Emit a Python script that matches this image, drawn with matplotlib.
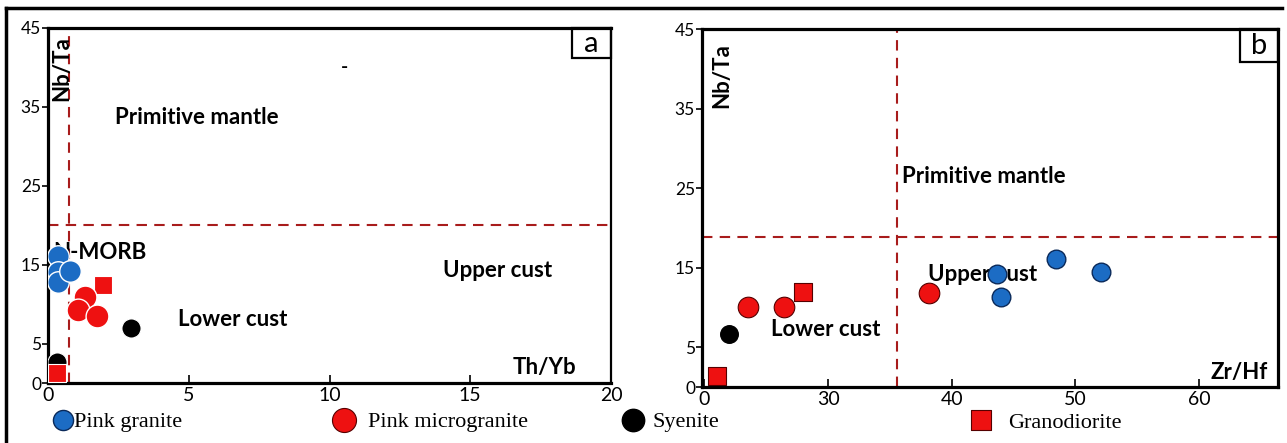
import numpy as np
import matplotlib.pyplot as plt
from matplotlib.lines import Line2D
from matplotlib.patches import Rectangle

plt.rcParams['font.family'] = ['Lato', 'DejaVu Sans']

##################### DATA ##########################################
# panel a : Th/Yb vs Nb/Ta
a_granite_x = [0.36, 0.36, 0.36, 0.78]
a_granite_y = [16.1, 14.1, 12.8, 14.2]
a_micro_x   = [1.31, 1.07, 1.74]
a_micro_y   = [10.9, 9.25, 8.5]
a_syenite_x = [2.95, 0.32]
a_syenite_y = [7.0, 2.7]
a_grano_x   = [1.95, 0.32]
a_grano_y   = [12.4, 1.3]

# panel b : Zr/Hf vs Nb/Ta
b_granite_x = [43.7, 44.0, 48.4, 52.1]
b_granite_y = [14.2, 11.3, 16.1, 14.4]
b_micro_x   = [23.5, 26.4, 38.2]
b_micro_y   = [10.1, 10.1, 11.8]
b_syenite_x = [22.0]
b_syenite_y = [6.7]
b_grano_x   = [21.0, 28.0]
b_grano_y   = [1.4, 11.9]

a_xticks = [0, 5, 10, 15, 20]
a_xticklabels = ['0', '5', '10', '15', '20']
b_xticks = [20, 30, 40, 50, 60]
b_xticklabels = ['0', '30', '40', '50', '60']
yticks = [0, 5, 15, 25, 35, 45]
yticklabels = ['0', '5', '15', '25', '35', '45']

legend_labels = ['Pink granite', 'Pink microgranite', 'Syenite', 'Granodiorite']

BLUE = '#1c6cc4'
RED = '#ee1111'
DASH = '#a81c1c'

########################### FIGURE ###############################
fig = plt.figure(figsize=(12.87, 4.43), dpi=100)
back = fig.add_axes([0, 0, 1, 1], zorder=-1)
back.set_xlim(0, 1287)
back.set_ylim(443, 0)
back.axis('off')

ax_a = fig.add_axes([48/1287, 1-383/443, (611-48)/1287, (383-28)/443])
ax_b = fig.add_axes([702/1287, 1-387/443, (1278-702)/1287, (387-29)/443])


def style_axes(ax, xticks, xlabels):
    ax.set_ylim(0, 45)
    ax.set_yticks(yticks)
    ax.set_yticklabels(yticklabels)
    ax.set_xticks(xticks)
    ax.set_xticklabels(xlabels)
    for s in ax.spines.values():
        s.set_linewidth(2.3)
    ax.tick_params(axis='x', direction='in', length=6, width=1.2, labelsize=14, pad=3)
    ax.tick_params(axis='y', direction='out', length=4, width=1.2, labelsize=12.5, pad=1)


dash_kw = dict(color=DASH, lw=1.5, dashes=(5, 3.5), zorder=1)
txt_kw = dict(fontsize=16, fontweight='bold', zorder=1, va='center')

########################### PANEL A ##################################
style_axes(ax_a, a_xticks, a_xticklabels)
ax_a.set_xlim(0, 20)
ax_a.spines['right'].set_linewidth(1.6)
ax_a.axhline(20, **dash_kw)
ax_a.axvline(0.75, **dash_kw)

ax_a.scatter(a_syenite_x, a_syenite_y, s=190, c='black', edgecolors='white', linewidths=0.8, zorder=3)
ax_a.scatter(a_grano_x, a_grano_y, s=160, c=RED, marker='s', edgecolors='white', linewidths=0.8, zorder=3)
ax_a.scatter(a_micro_x, a_micro_y, s=270, c=RED, edgecolors='white', linewidths=1.0, zorder=3)
ax_a.scatter(a_granite_x, a_granite_y, s=240, c=BLUE, edgecolors='white', linewidths=1.0, zorder=4)

ax_a.text(2.38, 33.7, 'Primitive mantle', **txt_kw)
ax_a.text(0.2, 16.6, 'N-MORB', **txt_kw)
ax_a.text(4.62, 8.0, 'Lower cust', **txt_kw)
ax_a.text(14.03, 14.3, 'Upper cust', **txt_kw)
ax_a.text(16.5, 2.0, 'Th/Yb', **txt_kw)
ax_a.text(0.5, 39.8, 'Nb/Ta', rotation=90, ha='center', fontsize=16, fontweight='bold', va='center')
ax_a.text(10.55, 40.0, '-', fontsize=14, fontweight='bold', ha='center', va='center')

ax_a.add_patch(Rectangle((0.93, 0.915), 0.07, 0.085, transform=ax_a.transAxes,
                         fill=False, lw=1.6, ec='black', clip_on=False))
ax_a.text(0.965, 0.955, 'a', transform=ax_a.transAxes, fontsize=21, ha='center', va='center')

########################### PANEL B ##################################
style_axes(ax_b, b_xticks, b_xticklabels)
ax_b.set_xlim(19.8, 66.4)
ax_b.axhline(18.9, **dash_kw)
ax_b.axvline(35.6, **dash_kw)

ax_b.scatter(b_syenite_x, b_syenite_y, s=160, c='black', zorder=3)
ax_b.scatter(b_grano_x, b_grano_y, s=160, c=RED, marker='s', edgecolors='#550000', linewidths=0.8, zorder=3)
ax_b.scatter(b_micro_x, b_micro_y, s=220, c=RED, edgecolors='#550000', linewidths=0.8, zorder=3)
ax_b.scatter(b_granite_x, b_granite_y, s=180, c=BLUE, edgecolors='#0b2a5a', linewidths=1.0, zorder=3)

ax_b.text(36.0, 26.4, 'Primitive mantle', **txt_kw)
ax_b.text(38.1, 14.1, 'Upper cust', **txt_kw)
ax_b.text(25.4, 7.2, 'Lower cust', **txt_kw)
ax_b.text(60.9, 1.8, 'Zr/Hf', **txt_kw)
ax_b.text(21.4, 39.2, 'Nb/Ta', rotation=90, ha='center', fontsize=16, fontweight='bold', va='center')

ax_b.add_patch(Rectangle((0.934, 0.907), 0.066, 0.093, transform=ax_b.transAxes,
                         fill=False, lw=1.6, ec='black', clip_on=False))
ax_b.text(0.967, 0.953, 'b', transform=ax_b.transAxes, fontsize=21, ha='center', va='center')

########################### LEGEND / FRAME ###########################
back.add_line(Line2D([6, 1282], [8, 8], color='black', lw=2.5))
back.add_line(Line2D([6, 6], [8, 443], color='black', lw=2.5))

leg_mark_x = [63, 344, 633, 981]
leg_text_x = [74, 368, 653, 1008]
leg_styles = [dict(c=BLUE, marker='o', s=210, edgecolors='#0b2a5a', linewidths=1.0),
              dict(c=RED, marker='o', s=300, edgecolors='#550000', linewidths=0.8),
              dict(c='black', marker='o', s=260),
              dict(c=RED, marker='s', s=220, edgecolors='#550000', linewidths=0.8)]
for mx, tx, lab, st in zip(leg_mark_x, leg_text_x, legend_labels, leg_styles):
    back.scatter([mx], [420], **st)
    back.text(tx, 423, lab, family='Liberation Serif', fontsize=16, va='center', ha='left')

fig.savefig('out.png', dpi=100, facecolor='w')
